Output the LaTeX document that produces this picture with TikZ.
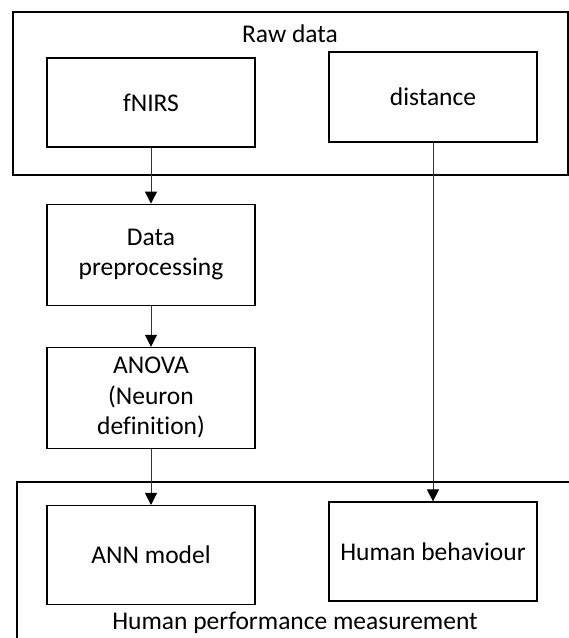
\documentclass[tikz,border=0pt]{standalone}
\usepackage{fontspec}
\setmainfont{Carlito}[Ligatures=NoCommon]
\usetikzlibrary{arrows.meta, positioning}
\tikzset{
  block/.style={
    rectangle, draw=black, line width=1.2pt,
    minimum width=208pt, inner sep=0pt,
    align=center,
    font=\fontsize{25.5}{30.5}\selectfont
  },
  frame/.style={rectangle, draw=black, line width=1.2pt, inner sep=0pt},
  caption/.style={inner sep=0pt, font=\fontsize{25.5}{30.5}\selectfont},
  arrow/.style={-{Triangle[length=12pt, width=12pt, black]}, line width=1pt, black!80}
}

\begin{document}
\begin{tikzpicture}[x=1pt, y=1pt, node distance=56pt]

  \useasboundingbox (0,0) rectangle (569,638);

  % upper group
  \node[frame, minimum width=555pt, minimum height=163pt] (rawbox) at (290.5,544.5) {};
  \node[caption, anchor=base] (rawlabel) at (290,595) {Raw data};

  \node[block, minimum height=89pt] (fnirs) at (151,535.5) {fNIRS};
  \node[block, minimum height=90pt] (distance) at (433,541) {distance};

  \node[block, minimum height=101pt, below=of fnirs] (preproc) {Data\\preprocessing};
  \node[block, minimum height=101pt, below=41pt of preproc] (anova) {ANOVA\\(Neuron\\definition)};

  % lower group, cut by the page edge
  \draw[frame] (17,-10) rectangle (600,156);
  \node[block, minimum height=99pt, below=of anova] (ann) {ANN model};
  \node[block, minimum height=99pt] (behaviour) at (433,86.5) {Human behaviour};
  \node[caption, anchor=base] (perflabel) at (295,9) {Human performance measurement};

  \draw[arrow] (fnirs) -- (preproc);
  \draw[arrow] (preproc) -- (anova);
  \draw[arrow] (anova) -- (ann);
  \draw[arrow] (distance) -- (behaviour);

\end{tikzpicture}
\end{document}
